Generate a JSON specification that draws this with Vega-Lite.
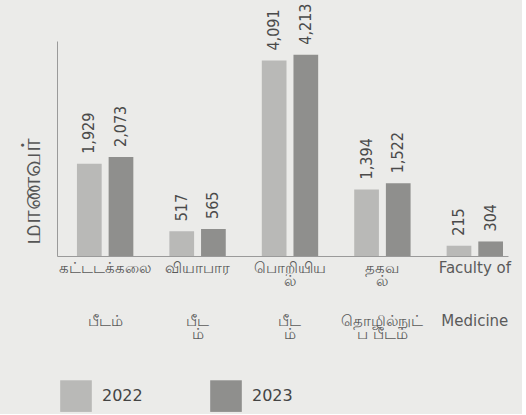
{
  "$schema": "https://vega.github.io/schema/vega-lite/v6.json",
  "width": 451,
  "height": 215,
  "padding": {"left": 18, "top": 3, "right": 11, "bottom": 2},
  "background": "#ebebe9",
  "config": {"view": {"stroke": null}, "font": "DejaVu Sans"},
  "datasets": {
    "bars": [
      {"label": "கட்டடக்கலை", "year": "2022", "students": 1929},
      {"label": "கட்டடக்கலை", "year": "2023", "students": 2073},
      {"label": "வியாபார", "year": "2022", "students": 517},
      {"label": "வியாபார", "year": "2023", "students": 565},
      {"label": "பொறியிய|ல்", "year": "2022", "students": 4091},
      {"label": "பொறியிய|ல்", "year": "2023", "students": 4213},
      {"label": "தகவ|ல்", "year": "2022", "students": 1394},
      {"label": "தகவ|ல்", "year": "2023", "students": 1522},
      {"label": "Faculty of", "year": "2022", "students": 215},
      {"label": "Faculty of", "year": "2023", "students": 304}
    ],
    "sublabels": [
      {"label": "கட்டடக்கலை", "sub": "பீடம்"},
      {"label": "வியாபார", "sub": "பீட|ம்"},
      {"label": "பொறியிய|ல்", "sub": "பீட|ம்"},
      {"label": "தகவ|ல்", "sub": "தொழில்நுட்|ப பீடம்"},
      {"label": "Faculty of", "sub": "Medicine"}
    ]
  },
  "encoding": {
    "x": {
      "field": "label",
      "type": "nominal",
      "sort": null,
      "scale": {"paddingInner": 0.39, "paddingOuter": 0.135, "align": 0.8},
      "axis": {
        "title": null,
        "labelAngle": 0,
        "labelExpr": "split(datum.label, '|')",
        "labelFontSize": 15,
        "labelColor": "#5a5a5a",
        "labelLineHeight": 13,
        "labelPadding": 4,
        "ticks": false,
        "domainColor": "#9a9a9a",
        "labelBaseline": "top"
      }
    }
  },
  "layer": [
    {
      "data": {"name": "bars"},
      "mark": {"type": "bar"},
      "encoding": {
        "xOffset": {"field": "year", "type": "nominal", "scale": {"paddingInner": 0.22}},
        "y": {
          "field": "students",
          "type": "quantitative",
          "scale": {"domain": [0, 4500]},
          "axis": {
            "title": "மாணவர்",
            "titleFontSize": 26,
            "titleFontWeight": "normal",
            "titleColor": "#555555",
            "titleAngle": -90,
            "titleAlign": "left",
            "titleBaseline": "middle",
            "titleX": -26,
            "titleY": 203,
            "labels": false,
            "ticks": false,
            "grid": false,
            "domainColor": "#9a9a9a"
          }
        },
        "color": {
          "field": "year",
          "type": "nominal",
          "scale": {"domain": ["2022", "2023"], "range": ["#b9b9b7", "#8f8f8d"]},
          "legend": {
            "title": null,
            "orient": "none",
            "legendX": 3,
            "legendY": 339,
            "direction": "horizontal",
            "symbolType": "square",
            "symbolSize": 1000,
            "symbolStrokeWidth": 0,
            "labelFontSize": 16,
            "labelColor": "#444444",
            "labelOffset": 10,
            "columnPadding": 67
          }
        }
      }
    },
    {
      "data": {"name": "bars"},
      "mark": {"type": "text", "angle": -90, "align": "left", "baseline": "middle", "dx": 10, "fontSize": 16, "font": "DejaVu Sans Condensed", "color": "#4a4a4a"},
      "encoding": {
        "xOffset": {"field": "year", "type": "nominal", "scale": {"paddingInner": 0.22}},
        "y": {"field": "students", "type": "quantitative"},
        "text": {"field": "students", "type": "quantitative", "format": ","}
      }
    },
    {
      "data": {"name": "sublabels"},
      "mark": {"type": "text", "baseline": "middle", "align": "center", "dy": 65, "fontSize": 15, "lineBreak": "|", "lineHeight": 13, "color": "#5a5a5a"},
      "encoding": {
        "y": {"datum": 0},
        "text": {"field": "sub", "type": "nominal"}
      }
    }
  ]
}
